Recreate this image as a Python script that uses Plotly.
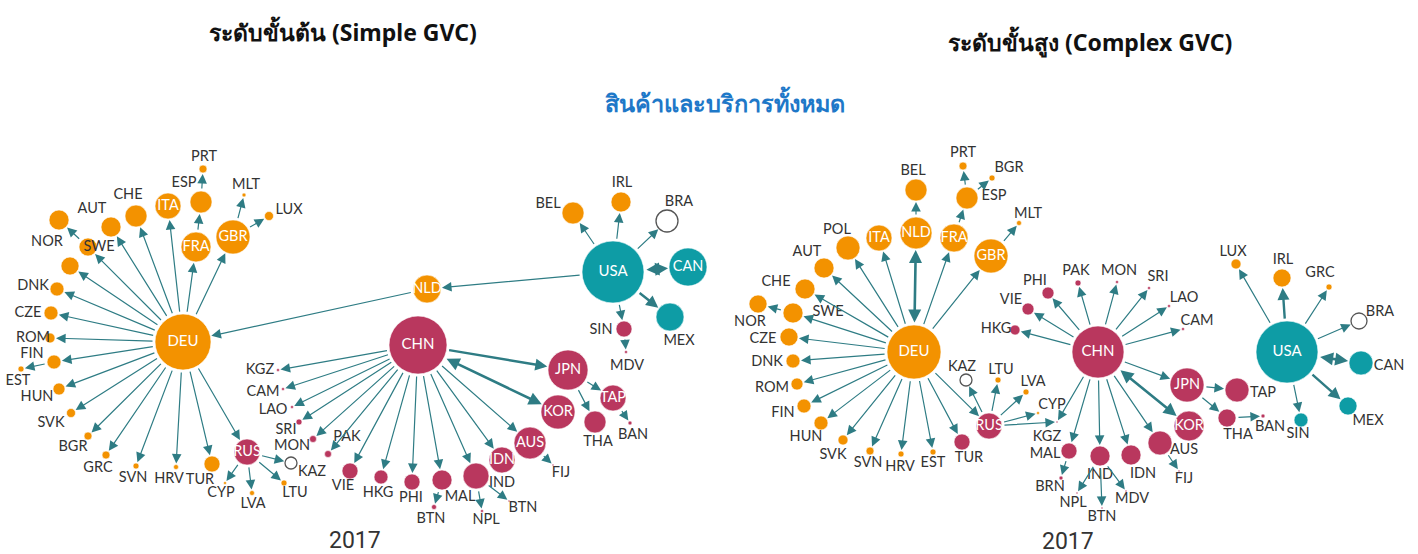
import plotly.graph_objects as go

# ---------------- data ----------------
# Left network (Simple GVC): node id, label, group, size (radius px)
L_ids    = ["DEU","ITA","FRA","GBR","ESP","PRT","MLT","LUX","CHE","AUT","NOR","SWE","UNK","DNK","CZE","ROM","FIN","EST","HUN","SVK","BGR","GRC","SVN","HRV","TUR","RUS","KAZ","CYP","LVA","LTU",
            "NLD","USA","CAN","MEX","BEL","IRL","BRA","SIN","MDV",
            "CHN","JPN","KOR","AUS","IDN","IND","MAL","PHI","HKG","VIE","PAK","MON","SRI","LAO","CAM","KGZ","BTN1","NPL","BTN2","FIJ","TAP","THA","BAN"]
L_labels = ["DEU","ITA","FRA","GBR","ESP","PRT","MLT","LUX","CHE","AUT","NOR","SWE","","DNK","CZE","ROM","FIN","EST","HUN","SVK","BGR","GRC","SVN","HRV","TUR","RUS","KAZ","CYP","LVA","LTU",
            "NLD","USA","CAN","MEX","BEL","IRL","BRA","SIN","MDV",
            "CHN","JPN","KOR","AUS","IDN","IND","MAL","PHI","HKG","VIE","PAK","MON","SRI","LAO","CAM","KGZ","BTN","NPL","BTN","FIJ","TAP","THA","BAN"]
L_group  = ["eu"]*25 + ["as","na","eu","eu","eu"] + ["eu","am","am","am","eu","eu","na","as","as"] + ["as"]*23
L_radius = [28,13,15,17,11,4,2,4.5,11,10,10,9,9,7,7,5,7,3,6,4.5,4,4,3,2.5,8,13,6,1.5,2.5,3,
            14,31,19,14,11,10,11,8,1.5,
            29,20,17,16,13,13,10,8,7,8,3.5,3.5,3,1.5,1.5,1.5,2.5,1.5,1,1,13,11,2]
L_x = [183,168,196,233,201,203,244,269,136,111,59,88,70,57,51,50,54,21,59,71,88,106,136,176,212,247,291,225,252,284,
       427,613,688,670,573,621,667,624,626,
       418,568,558,530,502,476,442,412,381,350,328,313,299,292,283,278,434,482,509,553,613,595,630]
L_y = [342,206,247,237,202,169,195,216,216,227,220,247,266,289,313,338,362,369,389,413,436,455,466,467,464,452,463,483,493,483,
       289,272,267,317,213,202,221,329,352,
       345,370,412,443,460,476,480,482,477,471,454,439,422,407,389,370,507,511,501,465,398,422,423]
# outside label positions (None = label drawn inside node)
L_lx = [None,None,None,None,184,204,246,289,128,92,47,99,None,33,28,33,32,18,37,51,73,98,133,169,200,None,312,221,253,295,
        None,None,None,679,548,622,679,601,627,
        None,None,None,None,None,502,460,411,378,343,347,292,286,273,263,260,431,486,523,561,None,598,633]
L_ly = [None,None,None,None,183,157,185,210,195,209,242,247,None,286,313,338,354,381,397,423,447,468,478,479,480,None,472,493,504,493,
        None,None,None,341,204,183,202,330,366,
        None,None,None,None,None,483,497,498,493,486,437,446,430,410,392,370,519,520,508,473,None,442,435]
L_edges = [("DEU","ITA"),("DEU","FRA"),("DEU","GBR"),("FRA","ESP"),("ESP","PRT"),("GBR","MLT"),("GBR","LUX"),
           ("DEU","CHE"),("DEU","AUT"),("DEU","SWE"),("SWE","NOR"),("DEU","UNK"),("DEU","DNK"),("DEU","CZE"),
           ("DEU","ROM"),("DEU","FIN"),("FIN","EST"),("DEU","HUN"),("DEU","SVK"),("DEU","BGR"),("DEU","GRC"),
           ("DEU","SVN"),("DEU","HRV"),("DEU","TUR"),("DEU","RUS"),("RUS","KAZ"),("RUS","CYP"),("RUS","LVA"),("RUS","LTU"),
           ("NLD","DEU"),("USA","NLD"),("USA","BEL"),("USA","IRL"),("USA","BRA"),("USA","SIN"),("SIN","MDV"),
           ("CHN","KGZ"),("CHN","CAM"),("CHN","LAO"),("CHN","SRI"),("CHN","MON"),("CHN","PAK"),("CHN","VIE"),
           ("CHN","HKG"),("CHN","PHI"),("CHN","MAL"),("CHN","IND"),("CHN","IDN"),("CHN","AUS"),
           ("MAL","BTN1"),("IND","NPL"),("IND","BTN2"),("AUS","FIJ"),("JPN","TAP"),("JPN","THA"),("TAP","BAN")]
L_thick = [("USA","MEX"),("CHN","JPN")]
L_both  = [("USA","CAN"),("CHN","KOR")]

# Right network (Complex GVC)
R_ids    = ["DEU","NLD","BEL","ITA","FRA","ESP","PRT","BGR","GBR","MLT","POL","AUT","CHE","NOR","SWE","CZE","DNK","ROM","FIN","HUN","SVK","SVN","HRV","EST",
            "TUR","RUS","KAZ","LTU","LVA","CYP","KGZ",
            "CHN","PHI","VIE","HKG","PAK","MON","SRI","LAO","CAM","JPN","KOR","AUS","IDN","IND","MAL","BRN","NPL","BTN","MDV","FIJ","TAP","THA","BAN",
            "USA","CAN","MEX","SIN","BRA","GRC","IRL","LUX"]
R_labels = R_ids
R_group  = ["eu"]*24 + ["as","as","na","eu","eu","eu","as"] + ["as"]*23 + ["am","am","am","am","na","eu","eu","eu"]
R_radius = [27,16,11,13,14,11,4,3,17,2.5,12,10,10,9,10,9,7,6,7,7,5,4,3,3,
            8,13,6,3,3,1.5,1,
            26,6,6,5,3,1.5,1.5,1.5,1.5,17,15,12,10,10,8,2,1,1,1,1,12,9,2,
            31,12,9,7,8,3,9,5]
R_x = [914,916,916,879,954,967,963,992,991,1019,848,824,805,758,793,789,793,797,804,821,843,870,901,933,
       962,989,966,998,1026,1038,1057,
       1098,1048,1028,1015,1078,1117,1149,1169,1183,1187,1189,1160,1131,1100,1069,1061,1077,1102,1126,1179,1237,1227,1263,
       1287,1361,1348,1301,1359,1329,1282,1236]
R_y = [352,233,190,238,238,198,166,178,256,223,248,268,289,304,313,337,361,384,406,423,440,451,454,452,
       442,426,380,380,392,413,422,
       352,293,309,330,283,282,288,306,329,385,426,443,455,456,451,478,493,508,491,471,390,418,416,
       352,363,406,420,321,287,278,264]
R_lx = [None,None,913,None,None,994,963,1009,None,1028,837,807,776,750,828,763,767,772,783,806,833,868,900,933,
        969,None,962,1001,1033,1052,1047,
        None,1035,1011,996,1076,1119,1158,1184,1197,None,None,1184,1143,1100,1045,1050,1073,1102,1132,1184,1263,1238,1270,
        None,1389,1368,1298,1380,1320,1283,1233]
R_ly = [None,None,171,None,None,196,153,168,None,214,230,252,282,322,312,339,362,388,413,437,455,463,467,463,
        458,None,367,370,382,405,437,
        None,281,300,329,271,271,277,298,321,None,None,450,474,475,454,487,503,517,499,479,393,435,427,
        None,366,421,434,312,273,260,252]
R_edges = [("NLD","BEL"),("DEU","ITA"),("DEU","FRA"),("FRA","ESP"),("ESP","PRT"),("ESP","BGR"),("DEU","GBR"),("GBR","MLT"),
           ("DEU","POL"),("DEU","AUT"),("DEU","CHE"),("DEU","SWE"),("SWE","NOR"),("DEU","CZE"),("DEU","DNK"),("DEU","ROM"),
           ("DEU","FIN"),("DEU","HUN"),("DEU","SVK"),("DEU","SVN"),("DEU","HRV"),("DEU","EST"),("DEU","TUR"),("DEU","RUS"),
           ("RUS","KAZ"),("RUS","LTU"),("RUS","LVA"),("RUS","CYP"),("RUS","KGZ"),
           ("CHN","PHI"),("CHN","VIE"),("CHN","HKG"),("CHN","PAK"),("CHN","MON"),("CHN","SRI"),("CHN","LAO"),("CHN","CAM"),
           ("CHN","JPN"),("CHN","AUS"),("CHN","IDN"),("CHN","IND"),("CHN","MAL"),("CHN","KGZ"),("MAL","BRN"),("IND","NPL"),
           ("IND","BTN"),("IND","MDV"),("AUS","FIJ"),("JPN","TAP"),("JPN","THA"),("THA","BAN"),
           ("USA","LUX"),("USA","GRC"),("USA","BRA"),("USA","SIN")]
R_thick = [("USA","IRL"),("USA","MEX")]
R_both  = [("DEU","NLD"),("CHN","KOR"),("USA","CAN")]

titles = ["ระดับขั้นต้น (Simple GVC)", "ระดับขั้นสูง (Complex GVC)"]
subtitle = "สินค้าและบริการทั้งหมด"
year_label = "2017"

# ---------------- styling ----------------
COL = {"eu": "#F39200", "as": "#B9375E", "am": "#0E9CA5", "na": "#FFFFFF"}
EDGE = "#2E7C84"
W, H = 1418, 554

fig = go.Figure()
ann = []

def draw(ids, labels, group, radius, xs, ys, lxs, lys, edges, thick, both):
    idx = {k: i for i, k in enumerate(ids)}
    def arrow(a, b, width, size, side):
        i, j = idx[a], idx[b]
        ann.append(dict(x=xs[j], y=ys[j], ax=xs[i], ay=ys[i], xref="x", yref="y", axref="x", ayref="y",
                        showarrow=True, arrowhead=2, arrowsize=size, arrowwidth=width, arrowcolor=EDGE,
                        standoff=radius[j] + 1, startstandoff=radius[i] + 1, startarrowhead=2,
                        startarrowsize=size, arrowside=side, text=""))
    for a, b in edges:
        arrow(a, b, 1.2, 1.6, "end")
    for a, b in thick:
        arrow(a, b, 2.4, 1.0, "end")
    for a, b in both:
        arrow(a, b, 2.6, 1.0, "end+start")
    fills = [COL[g] for g in group]
    lines = ["#555555" if g == "na" else "rgba(255,255,255,0.6)" for g in group]
    inside = [lab if lxs[k] is None else "" for k, lab in enumerate(labels)]
    fsz = [15 if radius[k] >= 25 else 14.5 for k in range(len(ids))]
    fig.add_trace(go.Scatter(x=xs, y=ys, mode="markers+text",
                             marker=dict(size=[2 * r for r in radius], color=fills, opacity=1,
                                         line=dict(color=lines, width=[1.3 if g == "na" else 1 for g in group])),
                             text=inside, textposition="middle center",
                             textfont=dict(family="Lato", size=fsz, color="white"),
                             hoverinfo="skip", showlegend=False))
    ox = [lxs[k] for k in range(len(ids)) if lxs[k] is not None]
    oy = [lys[k] for k in range(len(ids)) if lxs[k] is not None]
    ot = [labels[k] for k in range(len(ids)) if lxs[k] is not None]
    fig.add_trace(go.Scatter(x=ox, y=oy, mode="text", text=ot, textposition="middle center",
                             textfont=dict(family="Lato", size=14.5, color="#333333"),
                             hoverinfo="skip", showlegend=False))

draw(L_ids, L_labels, L_group, L_radius, L_x, L_y, L_lx, L_ly, L_edges, L_thick, L_both)
draw(R_ids, R_labels, R_group, R_radius, R_x, R_y, R_lx, R_ly, R_edges, R_thick, R_both)

ann += [
    dict(x=343, y=32, text="<b>" + titles[0] + "</b>", showarrow=False, xref="x", yref="y",
         font=dict(family="Noto Sans, Open Sans", size=23, color="#111111")),
    dict(x=1090, y=42, text="<b>" + titles[1] + "</b>", showarrow=False, xref="x", yref="y",
         font=dict(family="Noto Sans, Open Sans", size=23, color="#111111")),
    dict(x=725, y=102, text="<b>" + subtitle + "</b>", showarrow=False, xref="x", yref="y",
         font=dict(family="Noto Sans, Open Sans", size=23.5, color="#1E78C8")),
    dict(x=355, y=540, text=year_label, showarrow=False, xref="x", yref="y",
         font=dict(family="Roboto", size=23, color="#333333")),
    dict(x=1068, y=541, text=year_label, showarrow=False, xref="x", yref="y",
         font=dict(family="Roboto", size=23, color="#333333")),
]

fig.update_layout(width=W, height=H, autosize=False, margin=dict(l=0, r=0, t=0, b=0),
                  paper_bgcolor="white", plot_bgcolor="white", annotations=ann,
                  xaxis=dict(range=[0, W], visible=False, fixedrange=True),
                  yaxis=dict(range=[H, 0], visible=False, fixedrange=True))
fig.write_html("out.html", config={"displayModeBar": False},
               post_script="document.body.style.margin='0';document.body.style.overflow='hidden';")
